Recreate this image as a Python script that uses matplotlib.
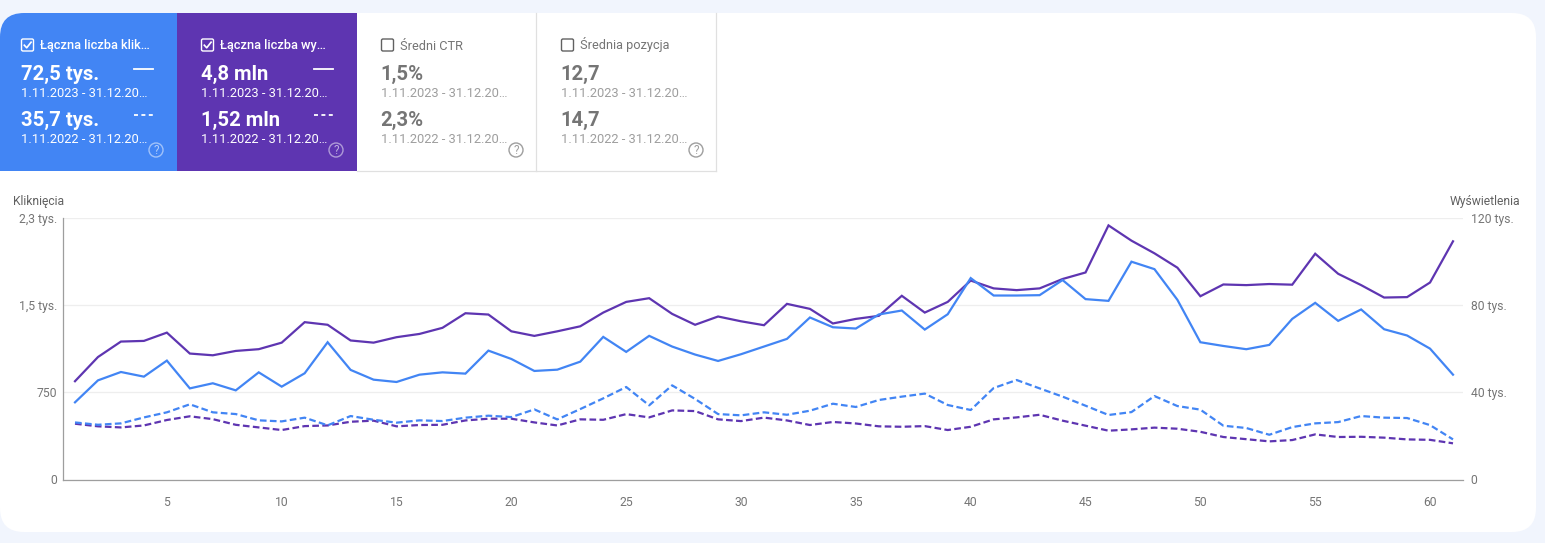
import matplotlib
matplotlib.use("Agg")
import matplotlib.pyplot as plt
from matplotlib.patches import FancyBboxPatch, Rectangle, Circle

plt.rcParams['font.family'] = ['Roboto', 'DejaVu Sans']

days = list(range(1, 62))
clicks_now = [664,853,925,885,1023,784,828,767,922,799,914,1181,943,859,839,902,922,911,1109,1037,
              934,945,1014,1227,1098,1236,1144,1075,1020,1078,1144,1210,1394,1310,1299,1420,1454,1290,1422,1733,
              1583,1583,1586,1716,1552,1537,1874,1810,1546,1181,1149,1121,1158,1382,1520,1365,1463,1293,1239,1126,902]
clicks_prev = [491,471,483,534,578,647,578,563,509,500,532,466,546,514,489,509,503,532,549,537,
               603,517,606,698,796,638,810,693,563,552,578,557,592,652,624,684,713,739,641,598,
               787,856,784,713,635,555,580,718,632,601,463,443,385,451,483,494,546,532,529,468,345]
impr_now = [45.1,56.2,63.3,63.6,67.4,57.8,57.0,59.0,59.8,62.8,72.2,71.0,63.8,62.8,65.3,66.8,69.6,76.3,75.7,68.0,
            65.9,68.0,70.3,76.6,81.5,83.2,76.0,71.0,74.8,72.6,70.8,80.6,78.3,71.6,73.7,75.1,84.3,76.6,81.5,91.3,
            87.7,86.9,87.7,92.0,95.0,116.6,109.6,103.8,97.2,84.1,89.5,89.2,89.7,89.4,103.6,94.4,89.2,83.5,83.7,90.4,109.3]
impr_prev = [25.6,24.4,23.9,24.8,27.3,29.0,27.7,25.1,23.9,22.7,24.5,24.8,26.5,27.0,24.4,25.0,25.1,27.1,27.9,27.9,
             26.2,24.8,27.6,27.4,30.0,28.5,31.7,31.4,27.6,26.8,28.4,27.1,25.0,26.4,25.7,24.4,24.2,24.5,22.7,24.2,
             27.6,28.5,29.7,27.0,24.7,22.4,23.0,23.8,23.3,21.9,19.5,18.5,17.5,18.1,20.7,19.5,19.6,19.2,18.4,18.2,16.6]

x_ticks = [5,10,15,20,25,30,35,40,45,50,55,60]
left_ticks = [0, 750, 1500, 2250]
left_labels = ['0', '750', '1,5 tys.', '2,3 tys.']
right_ticks = [0, 40, 80, 120]
right_labels = ['0', '40 tys.', '80 tys.', '120 tys.']

card_titles = ['Łączna liczba klik…', 'Łączna liczba wy…', 'Średni CTR', 'Średnia pozycja']
card_now = ['72,5 tys.', '4,8 mln', '1,5%', '12,7']
card_prev = ['35,7 tys.', '1,52 mln', '2,3%', '14,7']
range_now = '1.11.2023 - 31.12.20…'
range_prev = '1.11.2022 - 31.12.20…'
card_edges = [0, 177, 357, 537, 717]
card_fill = ['#4285f4', '#5e35b1', None, None]
card_checked = [True, True, False, False]

BLUE, PURPLE = '#4285f4', '#5e35b1'
W, H = 1545, 543
fig = plt.figure(figsize=(W/100, H/100), dpi=100, facecolor='#f1f5fd')

ui = fig.add_axes([0, 0, 1, 1], zorder=0)
ui.set_xlim(0, W); ui.set_ylim(H, 0); ui.axis('off')

card = FancyBboxPatch((0, 13), 1536, 519, boxstyle='round,pad=0,rounding_size=24',
                      fc='white', ec='none')
ui.add_patch(card)

for i in range(4):
    x0, x1 = card_edges[i], card_edges[i+1]
    fill = card_fill[i]
    if fill:
        r = Rectangle((x0, 13), x1-x0, 158, fc=fill, ec='none')
        ui.add_patch(r)
        r.set_clip_path(card)
    else:
        ui.plot([x1-1, x1-1], [13, 171], color='#e0e0e0', lw=0.9)
        ui.plot([x0, x1-1], [170.5, 170.5], color='#e0e0e0', lw=0.9)
    main = 'white' if fill else '#757575'
    sub = 'white' if fill else '#9e9e9e'
    tx = x0 + 21 if i < 1 else x0 + 24
    # checkbox
    ui.add_patch(FancyBboxPatch((tx+0.5, 39), 12, 12, boxstyle='round,pad=0,rounding_size=1.5',
                                fc='none', ec='white' if fill else '#616161', lw=1.0))
    if card_checked[i]:
        ui.plot([tx+3.3, tx+5.7, tx+10.1], [45.2, 47.8, 42.2], color='white', lw=1.2)
    ui.text(tx+19, 49.5, card_titles[i], color='white' if fill else '#757575',
            fontsize=9.2, fontweight='medium' if fill else 'normal', va='baseline', ha='left')
    ui.text(tx-(0 if fill else 1), 74, card_now[i], color=main, fontsize=14.6, fontweight='bold', va='center')
    ui.text(tx, 93.5, range_now, color=sub, fontsize=9.3, va='center')
    ui.text(tx-(0 if fill else 1), 120, card_prev[i], color=main, fontsize=14.6, fontweight='bold', va='center')
    ui.text(tx, 139.5, range_prev, color=sub, fontsize=9.3, va='center')
    if fill:
        lx = [x0+134, x0+153] if i == 0 else [x0+137, x0+156]
        ui.plot(lx, [68.5, 68.5], color='white', lw=1.3)
        ui.plot(lx, [114.5, 114.5], color='white', lw=1.3, dashes=(2.2, 1.9))
    hx = x1 - 21
    ui.add_patch(Circle((hx, 150), 7, fc='none', ec='#ffffff80' if fill else '#9e9e9e', lw=1.0))
    ui.text(hx, 150, '?', color='#ffffff99' if fill else '#9e9e9e', fontsize=8.5, ha='center', va='center')

ui.text(13, 202, 'Kliknięcia', color='#616161', fontsize=8.7, va='center', ha='left')
ui.text(1520, 202, 'Wyświetlenia', color='#616161', fontsize=8.7, va='center', ha='right')

rect = [63/W, 1-479.5/H, 1400/W, 261.5/H]
ax_i = fig.add_axes(rect, zorder=1)
ax_c = fig.add_axes(rect, zorder=2)
xlim = (1-12/22.97, 61+10/22.97)
for a in (ax_i, ax_c):
    a.set_xlim(*xlim)
    a.patch.set_visible(False)
    for s in a.spines.values():
        s.set_visible(False)
ax_i.set_ylim(0, 120)
ax_c.set_ylim(0, 2250)

ax_i.yaxis.tick_right()
ax_i.set_yticks(right_ticks, right_labels)
ax_i.tick_params(axis='y', length=0, pad=5.5, labelsize=8.7, labelcolor='#757575')
ax_i.set_xticks([])
ax_i.grid(axis='y', color='#eeeeee', lw=0.9)
ax_i.set_axisbelow(True)

ax_c.set_yticks(left_ticks, left_labels)
ax_c.set_xticks(x_ticks)
ax_c.tick_params(axis='y', length=0, pad=4, labelsize=8.7, labelcolor='#757575')
ax_c.tick_params(axis='x', length=0, pad=12, labelsize=8.7, labelcolor='#757575')
for side in ('left', 'bottom'):
    ax_c.spines[side].set_visible(True)
    ax_c.spines[side].set_color('#9e9e9e')
    ax_c.spines[side].set_linewidth(0.9)

ax_i.plot(days, impr_now, color=PURPLE, lw=1.6, solid_joinstyle='miter')
ax_i.plot(days, impr_prev, color=PURPLE, lw=1.6, dashes=(3, 1.5))
ax_c.plot(days, clicks_now, color=BLUE, lw=1.6, solid_joinstyle='miter')
ax_c.plot(days, clicks_prev, color=BLUE, lw=1.6, dashes=(3, 1.5))

fig.savefig('out.png', dpi=100, facecolor=fig.get_facecolor())
